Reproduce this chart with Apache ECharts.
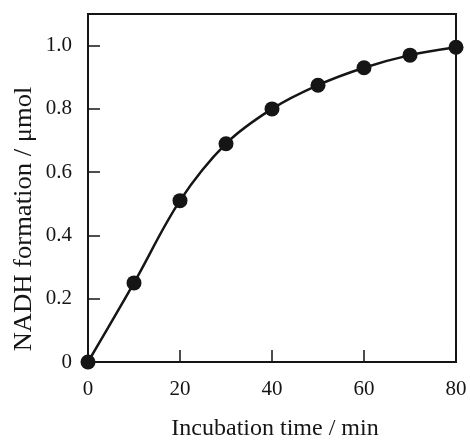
<!DOCTYPE html>
<html><head><meta charset="utf-8">
<script src="https://cdn.jsdelivr.net/npm/echarts@6/dist/echarts.min.js"></script>
<style>html,body{margin:0;padding:0;background:#fff}#c{width:470px;height:441px}</style>
</head><body><div id="c"></div>
<script>
const times = [0, 10, 20, 30, 40, 50, 60, 70, 80];
const nadh = [0, 0.25, 0.51, 0.69, 0.80, 0.875, 0.93, 0.97, 0.995];
const xTicks = [0, 20, 40, 60, 80];
const yTicks = [0, 0.2, 0.4, 0.6, 0.8, 1.0];
const xName = 'Incubation time / min';
const yName = 'NADH formation / μmol';

const font = "'Liberation Serif', 'Times New Roman', serif";
const ink = '#151515';
const chart = echarts.init(document.getElementById('c'));
chart.setOption({
  animation: false,
  textStyle: {fontFamily: font},
  grid: {left: 88, right: 14, top: 14, bottom: 79, containLabel: false, outerBoundsMode: 'none',
    show: true, borderColor: ink, borderWidth: 2, backgroundColor: 'transparent'},
  graphic: [
    {type: 'text', x: 275, y: 429, scaleX: 1.2, scaleY: 1.2,
      style: {text: xName, fontFamily: font, fontSize: 20, fill: ink, textAlign: 'center', textVerticalAlign: 'middle'}},
    {type: 'text', x: 24, y: 219, rotation: Math.PI / 2, scaleX: 1.33, scaleY: 1.3,
      style: {text: yName, fontFamily: font, fontSize: 20, fill: ink, textAlign: 'center', textVerticalAlign: 'middle'}}
  ],
  xAxis: {
    type: 'value', min: 0, max: 80, interval: 20,
    axisLine: {show: true, onZero: false, lineStyle: {color: ink, width: 2}},
    axisTick: {show: true, inside: true, length: 12, lineStyle: {color: ink, width: 1.5}},
    splitLine: {show: false},
    axisLabel: {fontFamily: font, fontSize: 21, color: ink, margin: 17,
      formatter: v => xTicks.includes(v) ? String(v) : ''}
  },
  yAxis: {
    type: 'value', min: 0, max: 1.1, interval: 0.2,
    axisLine: {show: true, onZero: false, lineStyle: {color: ink, width: 2}},
    axisTick: {show: true, inside: true, length: 12, lineStyle: {color: ink, width: 1.5}},
    splitLine: {show: false},
    axisLabel: {fontFamily: font, fontSize: 21, color: ink, margin: 16, showMaxLabel: false,
      formatter: v => {
        const t = yTicks.find(t => Math.abs(t - v) < 1e-6);
        if (t === undefined) return '';
        return t === 0 ? '0' : t.toFixed(1);
      }}
  },
  series: [{
    type: 'line',
    data: times.map((t, i) => [t, nadh[i]]),
    smooth: 0.35,
    symbol: 'circle', symbolSize: 15,
    clip: false,
    lineStyle: {color: ink, width: 2.5},
    itemStyle: {color: ink}
  }]
});
</script></body></html>
